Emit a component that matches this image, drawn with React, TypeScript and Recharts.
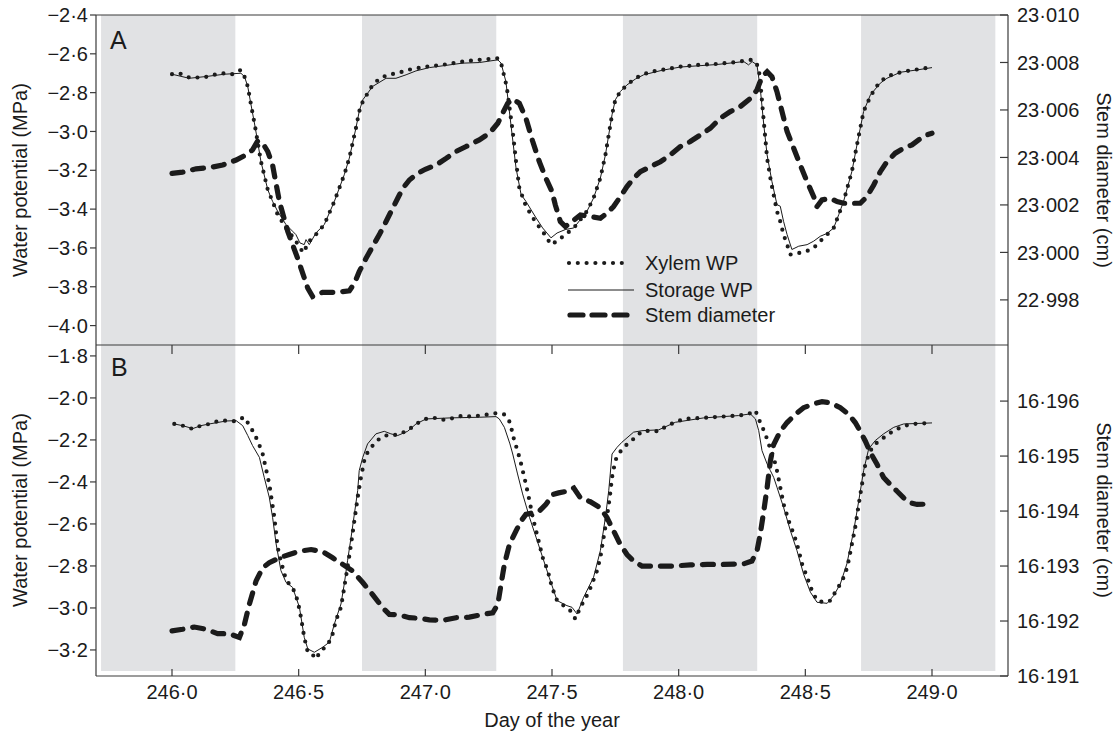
import React from 'react';
import { LineChart, Line, XAxis, YAxis, ReferenceArea, ReferenceLine } from 'recharts';

const INK = '#1b1b1b';
const AXIS = '#3a3a3a';
const NIGHT = '#e1e2e4';
const FONT = '"Liberation Sans", Arial, Helvetica, sans-serif';

// x axis: day of the year, night periods shaded grey
const dayDomain = [245.7, 249.3];
const dayTicks = [246, 246.5, 247, 247.5, 248, 248.5, 249];
const nightStart = [245.72, 246.75, 247.78, 248.72];
const nightEnd = [246.25, 247.28, 248.31, 249.25];

// axis ranges / ticks
const wpDomainA = [-4.1, -2.4];
const wpTicksA = [-4.0, -3.8, -3.6, -3.4, -3.2, -3.0, -2.8, -2.6, -2.4];
const stemDomainA = [22.9961, 23.01];
const stemTicksA = [22.998, 23.0, 23.002, 23.004, 23.006, 23.008, 23.01];
const wpDomainB = [-3.324, -1.748];
const wpTicksB = [-3.2, -3.0, -2.8, -2.6, -2.4, -2.2, -2.0, -1.8];
const stemDomainB = [16.191, 16.19702];
const stemTicksB = [16.191, 16.192, 16.193, 16.194, 16.195, 16.196];
const bandFloorB = -3.3;

// ---- panel A ----
const xylemADays = [246.000, 246.029, 246.068, 246.101, 246.134, 246.167, 246.207, 246.239, 246.272, 246.286, 246.299, 246.312, 246.329, 246.351, 246.378, 246.397, 246.417, 246.450, 246.489, 246.518, 246.542, 246.568, 246.601, 246.641, 246.680, 246.700, 246.726, 246.739, 246.753, 246.792, 246.818, 246.851, 246.891, 246.930, 247.003, 247.068, 247.147, 247.213, 247.286, 247.299, 247.321, 247.345, 247.358, 247.371, 247.397, 247.437, 247.463, 247.496, 247.520, 247.553, 247.586, 247.638, 247.664, 247.691, 247.711, 247.724, 247.737, 247.750, 247.770, 247.796, 247.829, 247.862, 247.895, 247.934, 248.007, 248.079, 248.151, 248.224, 248.283, 248.303, 248.316, 248.322, 248.336, 248.349, 248.362, 248.372, 248.388, 248.401, 248.414, 248.428, 248.441, 248.500, 248.533, 248.559, 248.586, 248.612, 248.632, 248.651, 248.684, 248.704, 248.730, 248.757, 248.776, 248.796, 248.822, 248.849, 248.888, 248.954, 249.000];
const xylemAWp = [-2.705, -2.700, -2.722, -2.722, -2.719, -2.708, -2.700, -2.705, -2.683, -2.717, -2.768, -2.863, -2.983, -3.154, -3.300, -3.360, -3.428, -3.497, -3.565, -3.625, -3.565, -3.531, -3.480, -3.360, -3.223, -3.137, -2.983, -2.897, -2.846, -2.760, -2.729, -2.708, -2.700, -2.683, -2.666, -2.657, -2.640, -2.631, -2.623, -2.648, -2.768, -3.000, -3.154, -3.291, -3.385, -3.471, -3.514, -3.583, -3.565, -3.531, -3.497, -3.411, -3.343, -3.240, -3.120, -3.017, -2.914, -2.837, -2.794, -2.760, -2.726, -2.705, -2.691, -2.683, -2.666, -2.657, -2.652, -2.643, -2.631, -2.640, -2.674, -2.743, -2.948, -3.137, -3.240, -3.308, -3.411, -3.463, -3.531, -3.583, -3.634, -3.620, -3.600, -3.565, -3.531, -3.497, -3.428, -3.360, -3.205, -3.068, -2.897, -2.820, -2.777, -2.743, -2.717, -2.705, -2.691, -2.678, -2.669];

const storageADays = [246.000, 246.068, 246.134, 246.207, 246.272, 246.286, 246.299, 246.312, 246.329, 246.351, 246.378, 246.397, 246.417, 246.450, 246.476, 246.489, 246.505, 246.522, 246.529, 246.542, 246.568, 246.601, 246.641, 246.680, 246.700, 246.726, 246.739, 246.753, 246.792, 246.845, 246.884, 246.924, 246.963, 247.016, 247.147, 247.213, 247.286, 247.299, 247.318, 247.338, 247.358, 247.378, 247.397, 247.437, 247.463, 247.496, 247.520, 247.553, 247.586, 247.638, 247.664, 247.691, 247.711, 247.724, 247.737, 247.750, 247.770, 247.796, 247.829, 247.862, 247.934, 248.007, 248.151, 248.257, 248.276, 248.290, 248.309, 248.322, 248.336, 248.349, 248.368, 248.388, 248.401, 248.414, 248.428, 248.447, 248.474, 248.507, 248.533, 248.559, 248.586, 248.612, 248.632, 248.651, 248.684, 248.704, 248.730, 248.757, 248.796, 248.822, 248.875, 248.941, 249.000];
const storageAWp = [-2.705, -2.726, -2.717, -2.705, -2.700, -2.717, -2.768, -2.863, -2.983, -3.154, -3.300, -3.360, -3.411, -3.480, -3.514, -3.531, -3.574, -3.583, -3.557, -3.583, -3.523, -3.480, -3.360, -3.223, -3.137, -2.983, -2.897, -2.837, -2.768, -2.726, -2.726, -2.708, -2.688, -2.671, -2.648, -2.645, -2.631, -2.648, -2.743, -2.966, -3.188, -3.325, -3.360, -3.445, -3.497, -3.548, -3.523, -3.505, -3.497, -3.411, -3.343, -3.240, -3.120, -3.017, -2.914, -2.837, -2.794, -2.760, -2.730, -2.708, -2.685, -2.668, -2.655, -2.640, -2.657, -2.640, -2.657, -2.777, -2.966, -3.120, -3.257, -3.377, -3.385, -3.463, -3.531, -3.608, -3.591, -3.583, -3.565, -3.540, -3.525, -3.497, -3.428, -3.360, -3.205, -3.068, -2.897, -2.811, -2.751, -2.726, -2.695, -2.683, -2.671];

const stemADays = [246.000, 246.042, 246.095, 246.147, 246.200, 246.253, 246.292, 246.318, 246.338, 246.358, 246.378, 246.397, 246.424, 246.457, 246.496, 246.536, 246.555, 246.595, 246.647, 246.700, 246.720, 246.739, 246.766, 246.792, 246.818, 246.845, 246.871, 246.891, 246.911, 246.937, 246.970, 247.000, 247.042, 247.082, 247.121, 247.161, 247.213, 247.253, 247.286, 247.305, 247.325, 247.345, 247.371, 247.397, 247.424, 247.450, 247.476, 247.500, 247.513, 247.533, 247.553, 247.579, 247.612, 247.651, 247.691, 247.717, 247.743, 247.770, 247.796, 247.822, 247.849, 247.888, 247.928, 247.967, 248.007, 248.046, 248.086, 248.125, 248.164, 248.204, 248.243, 248.283, 248.309, 248.329, 248.349, 248.368, 248.388, 248.408, 248.428, 248.454, 248.480, 248.507, 248.533, 248.546, 248.566, 248.599, 248.625, 248.651, 248.717, 248.743, 248.770, 248.796, 248.822, 248.855, 248.888, 248.921, 248.947, 248.980, 249.000];
const stemACm = [23.00333, 23.00338, 23.00352, 23.00357, 23.00368, 23.00389, 23.00411, 23.00432, 23.00469, 23.0046, 23.00425, 23.00368, 23.00214, 23.00088, 22.99975, 22.99849, 22.99814, 22.99832, 22.99832, 22.99838, 22.9987, 22.99919, 22.99975, 23.00025, 23.00074, 23.0013, 23.00186, 23.00228, 23.0027, 23.00305, 23.00333, 23.0035, 23.00368, 23.00396, 23.00425, 23.00446, 23.00474, 23.00502, 23.00544, 23.00586, 23.00628, 23.00646, 23.00628, 23.00565, 23.00467, 23.00382, 23.00312, 23.00256, 23.002, 23.0013, 23.00109, 23.0013, 23.00158, 23.00151, 23.00144, 23.00165, 23.00193, 23.00235, 23.00277, 23.00312, 23.0034, 23.00361, 23.00382, 23.00411, 23.00446, 23.00467, 23.00495, 23.00523, 23.00565, 23.00593, 23.00614, 23.00649, 23.00684, 23.0074, 23.00761, 23.0074, 23.00677, 23.00593, 23.00509, 23.00439, 23.00368, 23.00298, 23.00235, 23.00193, 23.00221, 23.00228, 23.00214, 23.00207, 23.00207, 23.00235, 23.00284, 23.0034, 23.00382, 23.00418, 23.00439, 23.00453, 23.00474, 23.00495, 23.00502];

// ---- panel B ----
const xylemBDays = [246.009, 246.042, 246.082, 246.114, 246.147, 246.180, 246.213, 246.246, 246.286, 246.318, 246.338, 246.358, 246.384, 246.404, 246.417, 246.430, 246.443, 246.457, 246.476, 246.496, 246.509, 246.522, 246.536, 246.553, 246.568, 246.588, 246.614, 246.634, 246.647, 246.667, 246.680, 246.693, 246.707, 246.720, 246.733, 246.746, 246.759, 246.772, 246.792, 246.818, 246.845, 246.871, 246.897, 246.930, 246.963, 247.003, 247.042, 247.075, 247.114, 247.147, 247.180, 247.213, 247.246, 247.279, 247.312, 247.334, 247.351, 247.364, 247.378, 247.397, 247.411, 247.424, 247.437, 247.450, 247.463, 247.483, 247.500, 247.520, 247.546, 247.572, 247.592, 247.612, 247.645, 247.678, 247.691, 247.704, 247.717, 247.728, 247.737, 247.750, 247.763, 247.783, 247.822, 247.855, 247.888, 247.921, 247.954, 247.987, 248.020, 248.099, 248.171, 248.237, 248.276, 248.303, 248.316, 248.342, 248.355, 248.375, 248.388, 248.401, 248.414, 248.434, 248.454, 248.467, 248.487, 248.507, 248.526, 248.546, 248.572, 248.599, 248.618, 248.638, 248.658, 248.671, 248.684, 248.697, 248.711, 248.724, 248.737, 248.757, 248.776, 248.803, 248.829, 248.862, 248.895, 248.928, 249.000];
const xylemBWp = [-2.124, -2.132, -2.148, -2.132, -2.124, -2.111, -2.108, -2.111, -2.092, -2.156, -2.203, -2.267, -2.410, -2.568, -2.711, -2.775, -2.838, -2.878, -2.902, -2.965, -3.044, -3.140, -3.211, -3.219, -3.243, -3.203, -3.179, -3.124, -3.060, -2.997, -2.902, -2.806, -2.695, -2.584, -2.473, -2.378, -2.298, -2.259, -2.227, -2.195, -2.179, -2.179, -2.171, -2.156, -2.124, -2.100, -2.095, -2.105, -2.095, -2.084, -2.089, -2.084, -2.079, -2.073, -2.079, -2.116, -2.203, -2.251, -2.314, -2.410, -2.489, -2.568, -2.632, -2.695, -2.759, -2.822, -2.902, -2.965, -2.989, -3.013, -3.052, -2.997, -2.925, -2.822, -2.759, -2.663, -2.568, -2.473, -2.378, -2.298, -2.267, -2.235, -2.195, -2.159, -2.156, -2.159, -2.132, -2.116, -2.100, -2.095, -2.089, -2.084, -2.076, -2.060, -2.100, -2.171, -2.219, -2.283, -2.346, -2.425, -2.505, -2.584, -2.648, -2.695, -2.790, -2.854, -2.917, -2.965, -2.973, -2.965, -2.925, -2.886, -2.838, -2.775, -2.695, -2.616, -2.505, -2.410, -2.314, -2.251, -2.219, -2.195, -2.171, -2.148, -2.132, -2.124, -2.119];

const storageBDays = [246.009, 246.042, 246.082, 246.114, 246.147, 246.213, 246.253, 246.279, 246.299, 246.318, 246.345, 246.364, 246.384, 246.397, 246.411, 246.430, 246.450, 246.476, 246.503, 246.522, 246.536, 246.562, 246.595, 246.621, 246.641, 246.667, 246.680, 246.693, 246.707, 246.720, 246.733, 246.739, 246.753, 246.772, 246.805, 246.838, 246.864, 246.891, 246.930, 246.963, 247.003, 247.100, 247.213, 247.279, 247.292, 247.312, 247.334, 247.345, 247.364, 247.384, 247.411, 247.437, 247.463, 247.489, 247.520, 247.559, 247.579, 247.599, 247.625, 247.664, 247.691, 247.711, 247.724, 247.737, 247.757, 247.776, 247.822, 247.855, 247.921, 247.987, 248.099, 248.237, 248.283, 248.303, 248.316, 248.329, 248.349, 248.362, 248.375, 248.388, 248.414, 248.441, 248.467, 248.493, 248.520, 248.546, 248.586, 248.612, 248.638, 248.664, 248.691, 248.711, 248.730, 248.750, 248.776, 248.809, 248.849, 248.888, 249.000];
const storageBWp = [-2.124, -2.132, -2.146, -2.132, -2.124, -2.110, -2.108, -2.132, -2.179, -2.227, -2.283, -2.378, -2.473, -2.568, -2.695, -2.822, -2.878, -2.902, -2.997, -3.140, -3.195, -3.211, -3.187, -3.163, -3.076, -2.981, -2.886, -2.775, -2.663, -2.552, -2.441, -2.346, -2.283, -2.219, -2.171, -2.159, -2.171, -2.179, -2.159, -2.124, -2.100, -2.095, -2.092, -2.089, -2.100, -2.140, -2.219, -2.267, -2.362, -2.457, -2.568, -2.663, -2.759, -2.854, -2.965, -2.989, -2.997, -3.029, -2.949, -2.854, -2.727, -2.568, -2.441, -2.267, -2.235, -2.211, -2.163, -2.156, -2.152, -2.116, -2.095, -2.084, -2.076, -2.100, -2.156, -2.251, -2.314, -2.346, -2.378, -2.425, -2.521, -2.632, -2.727, -2.838, -2.925, -2.973, -2.978, -2.941, -2.886, -2.790, -2.632, -2.489, -2.346, -2.243, -2.203, -2.171, -2.140, -2.124, -2.119];

const stemBDays = [246.000, 246.042, 246.088, 246.134, 246.180, 246.226, 246.266, 246.286, 246.305, 246.332, 246.358, 246.384, 246.424, 246.463, 246.503, 246.549, 246.595, 246.634, 246.674, 246.713, 246.753, 246.792, 246.832, 246.858, 246.897, 246.937, 246.976, 247.016, 247.068, 247.121, 247.174, 247.226, 247.266, 247.286, 247.299, 247.312, 247.332, 247.358, 247.378, 247.397, 247.424, 247.450, 247.476, 247.503, 247.526, 247.559, 247.586, 247.612, 247.651, 247.691, 247.717, 247.743, 247.770, 247.796, 247.822, 247.855, 247.914, 247.980, 248.046, 248.112, 248.178, 248.257, 248.289, 248.309, 248.322, 248.336, 248.349, 248.362, 248.375, 248.401, 248.428, 248.461, 248.493, 248.533, 248.566, 248.599, 248.638, 248.671, 248.697, 248.717, 248.737, 248.757, 248.783, 248.809, 248.836, 248.862, 248.888, 248.914, 248.941, 249.000];
const stemBCm = [16.19182, 16.19185, 16.19189, 16.19185, 16.19177, 16.19177, 16.1917, 16.19194, 16.1923, 16.19273, 16.19297, 16.19306, 16.19315, 16.19321, 16.19327, 16.1933, 16.19326, 16.19315, 16.19303, 16.19291, 16.1927, 16.19248, 16.19224, 16.19212, 16.19211, 16.19206, 16.19205, 16.19202, 16.19201, 16.19206, 16.19207, 16.19212, 16.19215, 16.1923, 16.19267, 16.19303, 16.19339, 16.19364, 16.19382, 16.19394, 16.19397, 16.194, 16.19412, 16.1943, 16.19433, 16.19436, 16.19442, 16.19424, 16.19417, 16.19406, 16.19388, 16.19364, 16.19339, 16.19321, 16.19309, 16.193, 16.193, 16.193, 16.19302, 16.19303, 16.19303, 16.19304, 16.19309, 16.19327, 16.19358, 16.194, 16.19442, 16.19491, 16.19521, 16.19545, 16.19561, 16.19576, 16.19588, 16.19595, 16.19599, 16.19597, 16.19588, 16.19576, 16.19561, 16.19545, 16.19527, 16.19506, 16.19485, 16.19461, 16.19448, 16.19436, 16.19424, 16.19415, 16.19412, 16.19413];

const zip = (days: number[], vals: number[]) =>
  days.slice(0, Math.min(days.length, vals.length)).map((d, i) => ({ d, v: vals[i] }));

// "-2.4" -> "−2·4"
const fmt = (v: number, digits: number) =>
  (v < 0 ? '\u2212' : '') + Math.abs(v).toFixed(digits).replace('.', '\u00b7');

const DividerTick = ({ x, y }: any) => (
  <line x1={x} x2={x} y1={y} y2={y + 9} stroke={AXIS} strokeWidth={1.2} />
);

const DayTick = ({ x, y, payload }: any) => (
  <g>
    <line x1={x} x2={x} y1={y - 9} y2={y - 16} stroke={AXIS} strokeWidth={1.2} />
    <text x={x} y={y} dy="0.71em" textAnchor="middle" fill={INK} fontSize={20} fontFamily={FONT}>
      {fmt(payload.value, 1)}
    </text>
  </g>
);

const StemTick = ({ x, y, payload }: any) => (
  <g>
    <line x1={x - 9} x2={x - 17} y1={y} y2={y} stroke={AXIS} strokeWidth={1.2} />
    <text x={x} y={y} dy="0.36em" textAnchor="start" fill={INK} fontSize={20} fontFamily={FONT}>
      {fmt(payload.value, 3)}
    </text>
  </g>
);

interface PanelProps {
  lower: boolean;
  wpDomain: number[];
  wpTicks: number[];
  stemDomain: number[];
  stemTicks: number[];
  xylem: { d: number; v: number }[];
  storage: { d: number; v: number }[];
  stem: { d: number; v: number }[];
}

function Panel({ lower, wpDomain, wpTicks, stemDomain, stemTicks, xylem, storage, stem }: PanelProps) {
  return (
    <div style={{ position: 'absolute', left: 0, top: lower ? 330 : 0 }}>
      <LineChart width={1120} height={lower ? 404 : 360} margin={{ top: 15, right: 52, bottom: 0, left: 36 }}>
        <XAxis
          type="number"
          dataKey="d"
          domain={dayDomain}
          ticks={dayTicks}
          interval={0}
          allowDataOverflow
          height={lower ? 58 : 15}
          stroke={AXIS}
          strokeWidth={1.2}
          tickLine={false}
          tickSize={0}
          tickMargin={lower ? 9 : 0}
          tick={lower ? DayTick : DividerTick}
        />
        <YAxis
          yAxisId="wp"
          type="number"
          domain={wpDomain}
          ticks={wpTicks}
          interval={0}
          allowDataOverflow
          width={60}
          stroke={AXIS}
          strokeWidth={1.2}
          tickSize={6}
          tickMargin={2}
          tick={{ fill: INK, fontSize: 20, fontFamily: FONT }}
          tickFormatter={(v: number) => fmt(v, 1)}
        />
        <YAxis
          yAxisId="stem"
          orientation="right"
          type="number"
          domain={stemDomain}
          ticks={stemTicks}
          interval={0}
          allowDataOverflow
          width={60}
          stroke={AXIS}
          strokeWidth={1.2}
          tickLine={false}
          tickSize={0}
          tickMargin={9}
          tick={StemTick}
        />
        {nightStart.map((s, i) => (
          <ReferenceArea
            key={i}
            yAxisId="wp"
            x1={s}
            x2={nightEnd[i]}
            y1={lower ? bandFloorB : wpDomain[0]}
            y2={wpDomain[1]}
            fill={NIGHT}
            fillOpacity={1}
            stroke="none"
            ifOverflow="visible"
          />
        ))}
        {!lower && <ReferenceLine yAxisId="wp" y={wpDomain[1]} stroke={AXIS} strokeWidth={1.2} />}
        <Line yAxisId="wp" data={storage} dataKey="v" type="linear" stroke={INK} strokeWidth={1}
          dot={false} activeDot={false} isAnimationActive={false} />
        <Line yAxisId="wp" data={xylem} dataKey="v" type="linear" stroke={INK} strokeWidth={4.2}
          strokeDasharray="0 8.8" strokeLinecap="round" dot={false} activeDot={false} isAnimationActive={false} />
        <Line yAxisId="stem" data={stem} dataKey="v" type="linear" stroke={INK} strokeWidth={5.2}
          strokeDasharray="11 10" strokeLinecap="round" dot={false} activeDot={false} isAnimationActive={false} />
      </LineChart>
    </div>
  );
}

export default function App() {
  return (
    <div style={{ position: 'absolute', left: 0, top: 0, width: 1120, height: 734, background: '#fff', fontFamily: FONT }}>
      <Panel
        lower
        wpDomain={wpDomainB}
        wpTicks={wpTicksB}
        stemDomain={stemDomainB}
        stemTicks={stemTicksB}
        xylem={zip(xylemBDays, xylemBWp)}
        storage={zip(storageBDays, storageBWp)}
        stem={zip(stemBDays, stemBCm)}
      />
      <Panel
        lower={false}
        wpDomain={wpDomainA}
        wpTicks={wpTicksA}
        stemDomain={stemDomainA}
        stemTicks={stemTicksA}
        xylem={zip(xylemADays, xylemAWp)}
        storage={zip(storageADays, storageAWp)}
        stem={zip(stemADays, stemACm)}
      />
      <svg width={1120} height={734} style={{ position: 'absolute', left: 0, top: 0, pointerEvents: 'none' }}
        fontFamily={FONT} fill={INK}>
        <text x={110} y={49} fontSize={25}>A</text>
        <text x={111} y={376} fontSize={25}>B</text>
        <text transform="translate(20,180) rotate(-90)" textAnchor="middle" dy="0.35em" fontSize={20}>Water potential (MPa)</text>
        <text transform="translate(20,510) rotate(-90)" textAnchor="middle" dy="0.35em" fontSize={20}>Water potential (MPa)</text>
        <text transform="translate(1104,180) rotate(90)" textAnchor="middle" dy="0.35em" fontSize={20}>Stem diameter (cm)</text>
        <text transform="translate(1104,510) rotate(90)" textAnchor="middle" dy="0.35em" fontSize={20}>Stem diameter (cm)</text>
        <text x={552} y={727} textAnchor="middle" fontSize={20}>Day of the year</text>
        <g>
          <line x1={569} x2={628} y1={263} y2={263} stroke={INK} strokeWidth={4.2} strokeDasharray="0 8.8" strokeLinecap="round" />
          <text x={645} y={270} fontSize={20}>Xylem WP</text>
          <line x1={568} x2={634} y1={290} y2={290} stroke={INK} strokeWidth={1} />
          <text x={645} y={297} fontSize={20}>Storage WP</text>
          <line x1={570} x2={628} y1={315} y2={315} stroke={INK} strokeWidth={5.2} strokeDasharray="13 9" strokeLinecap="round" />
          <text x={645} y={322} fontSize={20}>Stem diameter</text>
        </g>
      </svg>
    </div>
  );
}
